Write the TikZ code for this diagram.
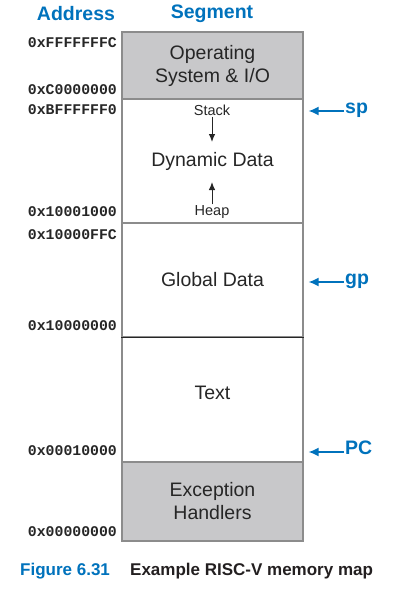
\documentclass[tikz,border=0pt]{standalone}
\usepackage{fontspec}
\setmainfont{Liberation Sans}
\setmonofont{Liberation Mono}
\usetikzlibrary{arrows.meta}
\definecolor{figblue}{RGB}{0,114,188}
\definecolor{segfill}{RGB}{200,200,202}
\definecolor{seedge}{RGB}{140,140,140}
\definecolor{captext}{RGB}{35,31,32}
\tikzset{
  seg/.style={draw=seedge, line width=1.2pt, minimum width=181pt, inner sep=0pt, align=center,
              font=\fontsize{19.5}{23}\selectfont, text=black!85},
  addr/.style={anchor=east, inner sep=0pt, font=\fontsize{14.8}{16}\selectfont\ttfamily\bfseries, text=black!85},
  head/.style={font=\fontsize{19.5}{22}\selectfont\bfseries, text=figblue},
  ptr/.style={anchor=mid west, inner sep=1pt, font=\fontsize{19.5}{22}\selectfont\bfseries, text=figblue},
  ptrarrow/.style={figblue, line width=1.6pt, -{Latex[length=10pt,width=9pt]}, shorten >=5pt},
  small/.style={font=\fontsize{14.5}{16}\selectfont, text=black!85, inner sep=1pt},
  growarrow/.style={black!85, line width=1pt, -{Latex[length=8pt,width=6.5pt]}}
}
\begin{document}
\begin{tikzpicture}[x=1pt, y=-1pt]
    \useasboundingbox (0,0) rectangle (418,590);

    \node[head] (haddr) at (76,14) {Address};
    \node[head] (hseg) at (212,14) {Segment};

    % memory segments, top to bottom
    \node[seg, fill=segfill, minimum height=67pt] (os) at (212.5,65.5) {Operating\\System \& I/O};
    \node[seg, minimum height=124pt] (dyn) at (212.5,161) {};
    \node[seg, minimum height=114pt] (glob) at (212.5,280) {Global Data};
    \node[seg, minimum height=125pt] (text) at (212.5,399.5) {};
    \node[seg, fill=segfill, minimum height=79pt] (exc) at (212.5,501.5) {Exception\\Handlers};
    \draw[black!85, line width=0.8pt] (glob.south west) -- (glob.south east);

    \node[seg, draw=none] (dynlbl) at (212.5,161) {Dynamic Data};
    \node[seg, draw=none, minimum width=0pt] (textlbl) at (212.5,393) {Text};
    \node[small] (stack) at (212,110) {Stack};
    \node[small] (heap) at (212,212) {Heap};
    \draw[growarrow] (stack) -- (212,142);
    \draw[growarrow] (heap) -- (212,182);

    \foreach \a/\y [count=\i] in {0xFFFFFFFC/43, 0xC0000000/90, 0xBFFFFFF0/110, 0x10001000/212,
                                 0x10000FFC/235, 0x10000000/326, 0x00010000/451, 0x00000000/532}
        \node[addr] (addr\i) at (117,\y) {\a};

    % register pointers
    \node[ptr] (sp) at (344,111) {sp};
    \node[ptr] (gp) at (344,282) {gp};
    \node[ptr] (pc) at (344,452) {PC};
    \draw[ptrarrow] (sp.mid west) -- (sp.mid west -| dyn.east);
    \draw[ptrarrow] (gp.mid west) -- (gp.mid west -| glob.east);
    \draw[ptrarrow] (pc.mid west) -- (pc.mid west -| text.east);

    \node[anchor=base west, inner sep=0pt, font=\fontsize{17}{19}\selectfont\bfseries, text=figblue] (fignum) at (20,575) {Figure 6.31};
    \node[anchor=base west, inner sep=0pt, font=\fontsize{17}{19}\selectfont\bfseries, text=captext] (figcap) at (130,575) {Example RISC-V memory map};
\end{tikzpicture}
\end{document}
